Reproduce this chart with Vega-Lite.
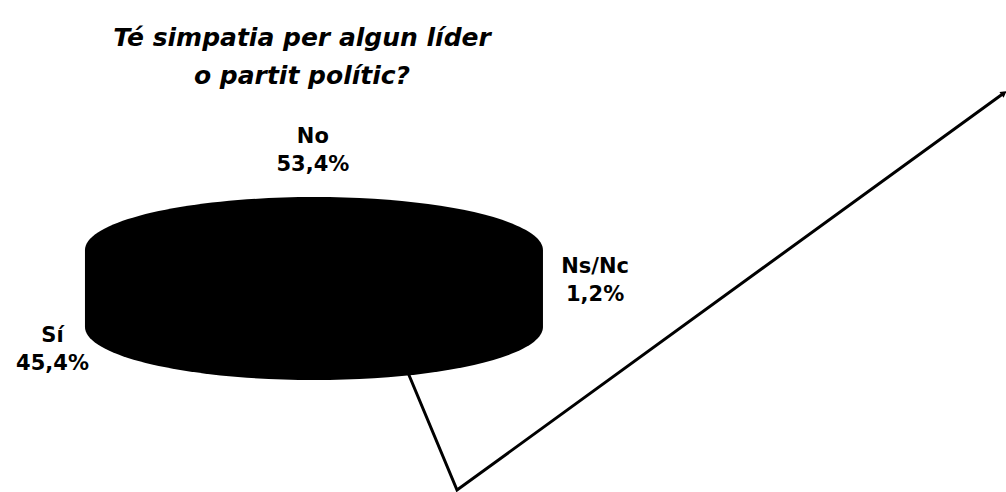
{
  "$schema": "https://vega.github.io/schema/vega-lite/v6.json",
  "width": 1006,
  "height": 392,
  "autosize": {"type": "none"},
  "padding": {"top": 100, "left": 0, "right": 0, "bottom": 0},
  "background": "white",
  "title": {
    "text": ["Té simpatia per algun líder", "o partit polític?"],
    "anchor": "start",
    "align": "center",
    "dx": 302,
    "offset": -22,
    "font": "DejaVu Sans",
    "fontSize": 25,
    "fontStyle": "italic",
    "fontWeight": "bold",
    "color": "black",
    "lineHeight": 38,
    "baseline": "alphabetic"
  },
  "datasets": {
    "respostes": [
      {"resposta": "No", "pct": 0.534, "lx": 31.1, "ly": 87.0},
      {"resposta": "Ns/Nc", "pct": 0.012, "lx": 59.15, "ly": 53.95},
      {"resposta": "Sí", "pct": 0.454, "lx": 5.22, "ly": 36.3}
    ],
    "pastis": [{"cx": 31.21, "cy": 51.91}],
    "fletxa": [
      {"ordre": 1, "fx": 40.36, "fy": 31.63},
      {"ordre": 2, "fx": 45.43, "fy": 0.51},
      {"ordre": 3, "fx": 99.8, "fy": 101.79}
    ]
  },
  "layer": [
    {
      "data": {"name": "fletxa"},
      "mark": {"type": "line", "color": "black", "strokeWidth": 3, "strokeJoin": "miter"},
      "encoding": {
        "x": {"field": "fx", "type": "quantitative", "scale": {"domain": [0, 100], "nice": false, "zero": false}, "axis": null},
        "y": {"field": "fy", "type": "quantitative", "scale": {"domain": [0, 100], "nice": false, "zero": false}, "axis": null},
        "order": {"field": "ordre", "type": "quantitative"}
      }
    },
    {
      "data": {"name": "fletxa"},
      "transform": [{"filter": "datum.ordre == 3"}],
      "mark": {"type": "point", "shape": "triangle-up", "filled": true, "size": 50, "angle": 54, "color": "black", "opacity": 1},
      "encoding": {
        "x": {"field": "fx", "type": "quantitative", "axis": null},
        "y": {"field": "fy", "type": "quantitative", "axis": null}
      }
    },
    {
      "data": {"name": "pastis"},
      "mark": {
        "type": "point",
        "shape": "M -1 -0.168 A 1 0.2314 0 0 1 1 -0.168 L 1 0.168 A 1 0.2314 0 0 1 -1 0.168 Z",
        "filled": true,
        "size": 209764,
        "color": "black",
        "opacity": 1,
        "strokeWidth": 0
      },
      "encoding": {
        "x": {"field": "cx", "type": "quantitative", "axis": null},
        "y": {"field": "cy", "type": "quantitative", "axis": null}
      }
    },
    {
      "data": {"name": "respostes"},
      "mark": {"type": "text", "font": "DejaVu Sans", "fontWeight": "bold", "fontSize": 21, "color": "black", "dy": -14, "align": "center", "baseline": "middle"},
      "encoding": {
        "x": {"field": "lx", "type": "quantitative", "axis": null},
        "y": {"field": "ly", "type": "quantitative", "axis": null},
        "text": {"field": "resposta", "type": "nominal"}
      }
    },
    {
      "data": {"name": "respostes"},
      "mark": {"type": "text", "font": "DejaVu Sans", "fontWeight": "bold", "fontSize": 21, "color": "black", "dy": 14, "align": "center", "baseline": "middle"},
      "encoding": {
        "x": {"field": "lx", "type": "quantitative", "axis": null},
        "y": {"field": "ly", "type": "quantitative", "axis": null},
        "text": {"field": "pct", "type": "quantitative", "format": ".1%"}
      }
    }
  ],
  "config": {
    "view": {"stroke": null},
    "locale": {"number": {"decimal": ",", "thousands": ".", "grouping": [3], "currency": ["", " €"]}}
  }
}
